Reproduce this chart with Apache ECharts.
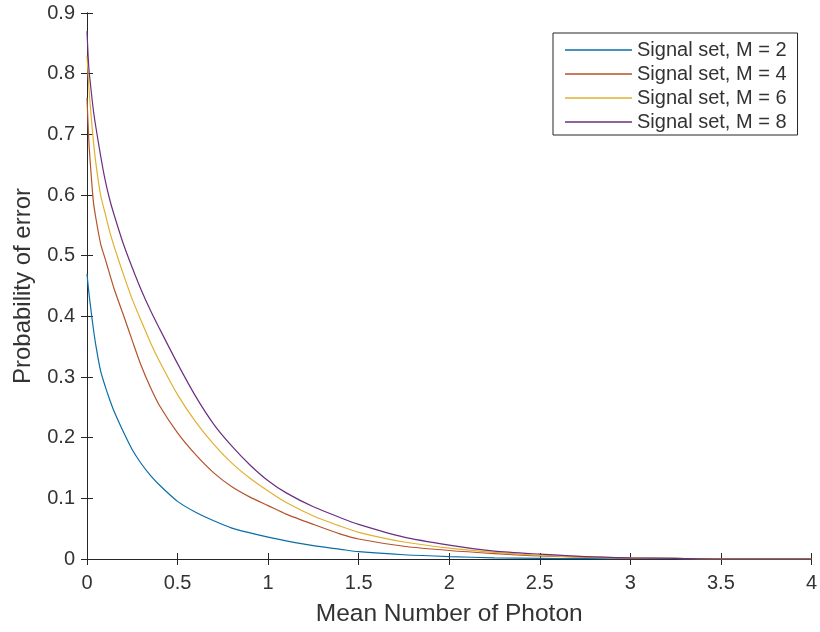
<!DOCTYPE html>
<html>
<head>
<meta charset="utf-8">
<script src="https://cdn.jsdelivr.net/npm/echarts@6/dist/echarts.min.js"></script>
<style>
  html, body { margin: 0; padding: 0; background: #fff; }
  #main { width: 820px; height: 632px; }
</style>
</head>
<body>
<div id="main"></div>
<script>
  // values
  var xValues = [0, 0.01, 0.02, 0.035, 0.05, 0.075, 0.1, 0.125, 0.15, 0.2, 0.25, 0.3, 0.35, 0.4, 0.5, 0.6, 0.7, 0.8, 0.9, 1.0, 1.1, 1.25, 1.4, 1.5, 1.75, 2.0, 2.25, 2.5, 2.75, 3.0, 3.25, 3.5, 4.0];
  var m2Values = [0.47, 0.44, 0.415, 0.38, 0.35, 0.31, 0.285, 0.263, 0.243, 0.21, 0.18, 0.157, 0.138, 0.122, 0.095, 0.077, 0.063, 0.051, 0.043, 0.036, 0.03, 0.022, 0.016, 0.012, 0.007, 0.004, 0.002, 0.001, 0.0005, 0, 0, 0, 0];
  var m4Values = [0.76, 0.69, 0.645, 0.59, 0.56, 0.52, 0.495, 0.47, 0.445, 0.403, 0.36, 0.318, 0.283, 0.253, 0.208, 0.172, 0.142, 0.119, 0.102, 0.088, 0.074, 0.057, 0.041, 0.033, 0.021, 0.014, 0.009, 0.005, 0.003, 0.0015, 0.001, 0, 0];
  var m6Values = [0.83, 0.78, 0.74, 0.69, 0.65, 0.60, 0.57, 0.54, 0.515, 0.47, 0.428, 0.392, 0.357, 0.326, 0.271, 0.226, 0.189, 0.158, 0.133, 0.112, 0.093, 0.071, 0.054, 0.044, 0.028, 0.018, 0.011, 0.006, 0.003, 0.002, 0.001, 0, 0];
  var m8Values = [0.87, 0.81, 0.78, 0.74, 0.71, 0.665, 0.625, 0.593, 0.567, 0.52, 0.48, 0.443, 0.41, 0.38, 0.322, 0.268, 0.222, 0.186, 0.155, 0.129, 0.109, 0.086, 0.068, 0.057, 0.036, 0.023, 0.013, 0.008, 0.004, 0.002, 0.001, 0, 0];
  var seriesNames = ['Signal set, M = 2', 'Signal set, M = 4', 'Signal set, M = 6', 'Signal set, M = 8'];
  var seriesColors = ['#0a6ea8', '#b5532a', '#e0b030', '#6b2f80'];

  function pairs(ys) {
    return xValues.map(function (x, i) { return [x, ys[i]]; });
  }

  var allValues = [m2Values, m4Values, m6Values, m8Values];
  var axisColor = '#262626';
  var textColor = '#333333';
  var fontFamily = '"Liberation Sans", Arial, sans-serif';

  var myChart = echarts.init(document.getElementById('main'));
  var option = {
    animation: false,
    backgroundColor: '#ffffff',
    textStyle: { fontFamily: fontFamily },
    grid: { left: 87, right: 1, top: 13, bottom: 72 },
    legend: {
      orient: 'vertical',
      left: 553,
      top: 33,
      padding: [7, 11, 3, 12],
      itemGap: 4,
      itemWidth: 67,
      itemHeight: 1.5,
      icon: 'rect',
      backgroundColor: '#ffffff',
      borderColor: axisColor,
      borderWidth: 1,
      borderRadius: 0,
      data: seriesNames,
      textStyle: { fontSize: 20, color: textColor, lineHeight: 20, fontFamily: fontFamily }
    },
    xAxis: [
      {
        type: 'value',
        min: 0, max: 4, interval: 0.5,
        name: 'Mean Number of Photon',
        nameLocation: 'middle',
        nameGap: 43,
        nameTextStyle: { fontSize: 24.5, color: textColor },
        axisLine: { lineStyle: { color: axisColor, width: 1 } },
        axisTick: { inside: true, length: 6, lineStyle: { color: axisColor } },
        axisLabel: { fontSize: 20, color: textColor, margin: 14 },
        splitLine: { show: false }
      },
      {
        type: 'value', position: 'top',
        min: 0, max: 4, interval: 0.5,
        axisLine: { show: true, lineStyle: { color: axisColor, width: 1 } },
        axisTick: { inside: true, length: 6, lineStyle: { color: axisColor } },
        axisLabel: { show: false },
        splitLine: { show: false }
      }
    ],
    yAxis: [
      {
        type: 'value',
        min: 0, max: 0.9, interval: 0.1,
        name: 'Probability of error',
        nameLocation: 'middle',
        nameGap: 52,
        nameTextStyle: { fontSize: 24, color: textColor },
        axisLine: { show: true, lineStyle: { color: axisColor, width: 1 } },
        axisTick: { show: true, inside: true, length: 6, lineStyle: { color: axisColor } },
        axisLabel: { fontSize: 20, color: textColor, margin: 12 },
        splitLine: { show: false }
      },
      {
        type: 'value', position: 'right',
        min: 0, max: 0.9, interval: 0.1,
        axisLine: { show: true, lineStyle: { color: axisColor, width: 1 } },
        axisTick: { show: true, inside: true, length: 6, lineStyle: { color: axisColor } },
        axisLabel: { show: false },
        splitLine: { show: false }
      }
    ],
    series: seriesNames.map(function (name, i) {
      return {
        name: name,
        type: 'line',
        xAxisIndex: 0,
        yAxisIndex: 0,
        data: pairs(allValues[i]),
        symbol: 'none',
        smooth: 0.25,
        color: seriesColors[i],
        lineStyle: { width: 1.2, color: seriesColors[i] }
      };
    })
  };
  myChart.setOption(option);
</script>
</body>
</html>
